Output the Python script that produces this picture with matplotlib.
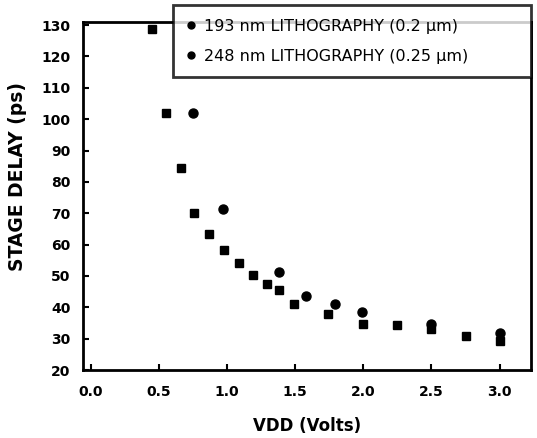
import matplotlib
matplotlib.use("Agg")
import matplotlib.pyplot as plt
from matplotlib.lines import Line2D

plt.rcParams["font.family"] = ["DejaVu Sans"]

# 193 nm lithography (0.2 um)
vdd_193 = [0.45, 0.55, 0.665, 0.76, 0.87, 0.98, 1.09, 1.19, 1.29, 1.38, 1.49,
           1.74, 2.0, 2.25, 2.5, 2.75, 3.0]
delay_193 = [128.8, 102.1, 84.3, 70.0, 63.5, 58.4, 54.2, 50.4, 47.5, 45.4, 41.2,
             37.9, 34.6, 34.2, 33.0, 30.7, 29.2]

# 248 nm lithography (0.25 um)
vdd_248 = [0.75, 0.97, 1.38, 1.58, 1.79, 1.99, 2.5, 3.0]
delay_248 = [102.0, 71.3, 51.1, 43.6, 40.9, 38.5, 34.6, 31.8]

labels = ["193 nm LITHOGRAPHY (0.2 \u00b5m)", "248 nm LITHOGRAPHY (0.25 \u00b5m)"]
xticks = [0.0, 0.5, 1.0, 1.5, 2.0, 2.5, 3.0]
yticks = list(range(20, 131, 10))

W, H = 537, 438
fig = plt.figure(figsize=(W / 100, H / 100), dpi=100)
ax = fig.add_axes([83 / W, 1 - 370 / H, (531 - 83) / W, (370 - 22) / H])

ax.plot(vdd_193, delay_193, "s", color="black", markersize=5.5, linestyle="none")
ax.plot(vdd_248, delay_248, "o", color="black", markersize=6.5, linestyle="none")

ax.set_xlim(-0.056, 3.23)
ax.set_ylim(20, 131)
ax.set_xticks(xticks)
ax.set_xticklabels([f"{v:.1f}" for v in xticks])
ax.set_yticks(yticks)

for s in ax.spines.values():
    s.set_linewidth(2)
ax.tick_params(direction="in", length=4, width=1.5, labelsize=10)
ax.tick_params(axis="x", pad=11)
ax.tick_params(axis="y", pad=9)
for lab in ax.get_xticklabels() + ax.get_yticklabels():
    lab.set_fontweight("bold")

ax.set_xlabel("VDD (Volts)", fontsize=12, fontweight="bold", labelpad=13)
ax.set_ylabel("STAGE DELAY (ps)", fontsize=13.5, fontweight="bold")
ax.yaxis.set_label_coords(-0.125, 0.555)

handles = [Line2D([], [], marker="o", color="black", linestyle="none", markersize=5)
           for _ in labels]
leg = fig.legend(handles, labels, loc="upper left",
                 bbox_to_anchor=(173 / W, 1 - 5 / H, (531 - 173) / W, 0),
                 mode="expand", fontsize=11.5, frameon=True, fancybox=False,
                 handlelength=0.6, handletextpad=0.5, labelspacing=0.95,
                 borderpad=0.85, borderaxespad=0)
leg.get_frame().set_edgecolor("black")
leg.get_frame().set_linewidth(2)

fig.savefig("out.png", dpi=100)
